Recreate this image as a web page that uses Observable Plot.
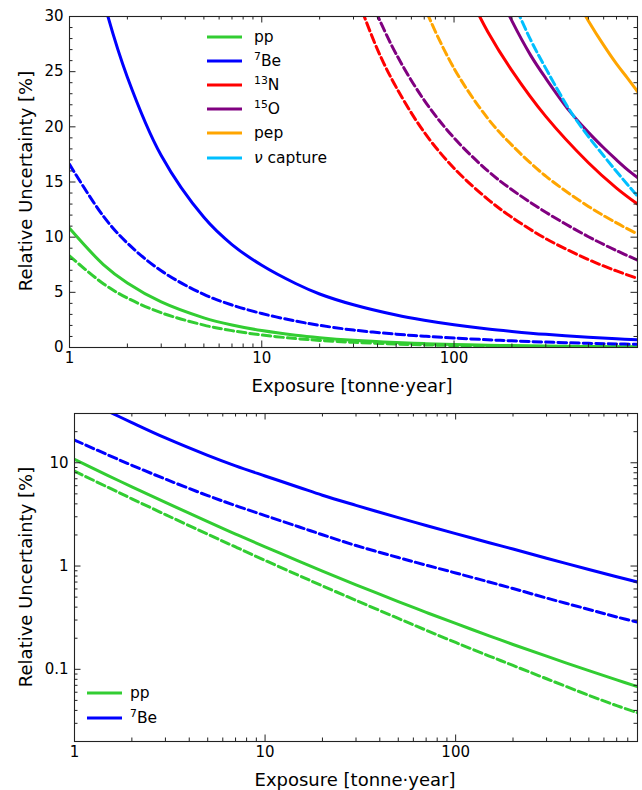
<!DOCTYPE html>
<html>
<head>
<meta charset="utf-8">
<script src="https://cdn.jsdelivr.net/npm/d3@7"></script>
<script src="https://cdn.jsdelivr.net/npm/@observablehq/plot@0.6"></script>
<style>
  html, body { margin: 0; padding: 0; background: #fff; }
  #wrap { position: relative; width: 642px; height: 790px; font-family: "DejaVu Sans", sans-serif; color: #000; }
  .panel { position: absolute; left: 0; }
  .xtitle { position: absolute; font-size: 18px; white-space: nowrap; transform: translate(-50%, -50%); }
  .ytitle { position: absolute; font-size: 18px; white-space: nowrap; transform: translate(-50%, -50%) rotate(-90deg); }
  .legend { position: absolute; font-size: 15.5px; }
  .legend .row { display: flex; align-items: center; white-space: nowrap; }
  .legend sup { font-size: 0.7em; vertical-align: 0.55em; line-height: 0; }
</style>
</head>
<body>
<div id="wrap">
  <div id="top" class="panel" style="top:0"></div>
  <div id="bottom" class="panel" style="top:395px"></div>
</div>
<script>
// ---------- data ----------
const exposure  = [1, 1.5, 2, 3, 5, 7, 10, 15, 20, 30, 50, 70, 100, 150, 200, 300, 500, 700, 900];
const ppSolid   = [10.8, 7.52, 5.85, 4.13, 2.69, 2.04, 1.535, 1.116, 0.894, 0.658, 0.453, 0.356, 0.278, 0.211, 0.174, 0.134, 0.097, 0.079, 0.068];
const ppDashed  = [8.3, 5.78, 4.48, 3.15, 2.03, 1.53, 1.134, 0.812, 0.643, 0.465, 0.311, 0.239, 0.182, 0.1345, 0.109, 0.081, 0.056, 0.0445, 0.038];
const be7Solid  = [44.8, 31.5, 24.5, 17.4, 11.8, 9.33, 7.45, 5.8, 4.85, 3.87, 2.94, 2.47, 2.06, 1.68, 1.46, 1.19, 0.926, 0.788, 0.70];
const be7Dashed = [16.6, 11.9, 9.46, 6.95, 4.81, 3.85, 3.08, 2.4, 2.01, 1.58, 1.21, 1.02, 0.857, 0.70, 0.606, 0.49, 0.38, 0.321, 0.287];

const n13DashedX = [30, 40, 50, 70, 100, 150, 200, 300, 500, 700, 900];
const n13Dashed  = [32.6, 27.0, 23.6, 19.5, 16.25, 13.43, 11.8, 9.87, 7.97, 6.94, 6.26];
const o15DashedX = [35, 40, 50, 70, 100, 150, 200, 300, 500, 700, 900];
const o15Dashed  = [32.5, 30.1, 26.6, 22.4, 19.0, 16.0, 14.3, 12.26, 10.04, 8.78, 7.92];
const pepDashedX = [65, 70, 100, 150, 200, 300, 500, 700, 900];
const pepDashed  = [32.4, 30.9, 25.3, 20.75, 18.34, 15.53, 12.79, 11.29, 10.29];
const n13SolidX  = [120, 150, 200, 300, 500, 700, 900];
const n13Solid   = [31.9, 28.6, 25.1, 20.95, 16.75, 14.45, 13.0];
const o15SolidX  = [180, 200, 250, 300, 400, 500, 600, 700, 800, 900];
const o15Solid   = [31.3, 29.6, 26.5, 24.4, 21.4, 19.5, 18.1, 17.0, 16.1, 15.4];
const nuDashedX  = [200, 250, 300, 400, 500, 600, 700, 800, 900];
const nuDashed   = [31.6, 27.9, 25.3, 21.5, 19.12, 17.38, 15.95, 14.75, 13.73];
const pepSolidX  = [450, 500, 600, 700, 800, 900];
const pepSolid   = [31.0, 29.6, 27.4, 25.7, 24.4, 23.2];

const xMajorTicks = [1, 10, 100];
const xMinorTicks = [2,3,4,5,6,7,8,9, 20,30,40,50,60,70,80,90, 200,300,400,500,600,700,800];
const yLinMajor = [0, 5, 10, 15, 20, 25, 30];
const yLinMinor = [1,2,3,4, 6,7,8,9, 11,12,13,14, 16,17,18,19, 21,22,23,24, 26,27,28,29];
const yLogMajor = [0.1, 1, 10];
const yLogMinor = [0.02,0.03,0.04,0.05,0.06,0.07,0.08,0.09, 0.2,0.3,0.4,0.5,0.6,0.7,0.8,0.9, 2,3,4,5,6,7,8,9, 20];

const colors = {pp: "#32cd32", be7: "#0000ff", n13: "#ff0000", o15: "#800080", pep: "#ffa500", nu: "#00bfff"};
const legendTop = [
  {key: "pp",  html: "pp"},
  {key: "be7", html: "<sup>7</sup>Be"},
  {key: "n13", html: "<sup>13</sup>N"},
  {key: "o15", html: "<sup>15</sup>O"},
  {key: "pep", html: "pep"},
  {key: "nu",  html: "<i>ν</i> capture"}
];
const legendBottom = [
  {key: "pp",  html: "pp"},
  {key: "be7", html: "<sup>7</sup>Be"}
];

// ---------- helpers ----------
const W = 642;
const rows = (xs, ys) => xs.map((x, i) => ({x, y: ys[i]}));
const series = (xs, ys, key, dashed) => ({data: rows(xs, ys), color: colors[key], dashed});

const topSeries = [
  series(exposure, ppSolid, "pp", false),
  series(exposure, ppDashed, "pp", true),
  series(exposure, be7Solid, "be7", false),
  series(exposure, be7Dashed, "be7", true),
  series(n13DashedX, n13Dashed, "n13", true),
  series(o15DashedX, o15Dashed, "o15", true),
  series(pepDashedX, pepDashed, "pep", true),
  series(n13SolidX, n13Solid, "n13", false),
  series(o15SolidX, o15Solid, "o15", false),
  series(nuDashedX, nuDashed, "nu", true),
  series(pepSolidX, pepSolid, "pep", false)
];
const bottomSeries = [
  series(exposure, ppSolid, "pp", false),
  series(exposure, ppDashed, "pp", true),
  series(exposure, be7Solid, "be7", false),
  series(exposure, be7Dashed, "be7", true)
];

function panel({height, marginTop, marginBottom, marginLeft, marginRight, y, yMajor, yMinor, lines}) {
  const innerH = height - marginTop - marginBottom;
  const innerW = W - marginLeft - marginRight;
  const MAJ = 6.5, MIN = 3.5, tc = "#222";
  return Plot.plot({
    width: W, height, marginTop, marginBottom, marginLeft, marginRight,
    style: {fontFamily: "'DejaVu Sans', sans-serif", fontSize: "15px", color: "#000", background: "#fff", overflow: "visible"},
    x: {type: "log", domain: [1, 900]},
    y,
    marks: [
      ...lines.map(s => Plot.line(s.data, {
        x: "x", y: "y", stroke: s.color, strokeWidth: 3,
        strokeDasharray: s.dashed ? "8.5,4" : null, curve: "catmull-rom", clip: true
      })),
      Plot.tickX(xMajorTicks, {x: d => d, insetTop: innerH - MAJ, stroke: tc}),
      Plot.tickX(xMajorTicks, {x: d => d, insetBottom: innerH - MAJ, stroke: tc}),
      Plot.tickX(xMinorTicks, {x: d => d, insetTop: innerH - MIN, stroke: tc}),
      Plot.tickX(xMinorTicks, {x: d => d, insetBottom: innerH - MIN, stroke: tc}),
      Plot.tickY(yMajor, {y: d => d, insetRight: innerW - MAJ, stroke: tc}),
      Plot.tickY(yMajor, {y: d => d, insetLeft: innerW - MAJ, stroke: tc}),
      Plot.tickY(yMinor, {y: d => d, insetRight: innerW - MIN, stroke: tc}),
      Plot.tickY(yMinor, {y: d => d, insetLeft: innerW - MIN, stroke: tc}),
      Plot.frame({stroke: tc, strokeWidth: 1.1}),
      Plot.axisX({ticks: xMajorTicks, tickSize: 0, tickPadding: 5, tickFormat: d => String(d), label: null}),
      Plot.axisY({ticks: yMajor, tickSize: 0, tickPadding: 6, tickFormat: d => String(d), label: null})
    ]
  });
}

function legend(container, items, {left, top, rowH, lineW, gap}) {
  const div = document.createElement("div");
  div.className = "legend";
  div.style.left = left + "px";
  div.style.top = top + "px";
  for (const it of items) {
    const row = document.createElement("div");
    row.className = "row";
    row.style.height = rowH + "px";
    row.innerHTML = `<svg width="${lineW}" height="6" style="margin-right:${gap}px"><line x1="0" x2="${lineW}" y1="3" y2="3" stroke="${colors[it.key]}" stroke-width="3"/></svg><span>${it.html}</span>`;
    div.appendChild(row);
  }
  container.appendChild(div);
}

function title(container, cls, text, cx, cy) {
  const d = document.createElement("div");
  d.className = cls;
  d.style.left = cx + "px";
  d.style.top = cy + "px";
  d.textContent = text;
  container.appendChild(d);
}

const wrap = document.getElementById("wrap");

document.getElementById("top").appendChild(panel({
  height: 395, marginTop: 16, marginBottom: 48, marginLeft: 69, marginRight: 5,
  y: {type: "linear", domain: [0, 30]},
  yMajor: yLinMajor, yMinor: yLinMinor, lines: topSeries
}));
document.getElementById("bottom").appendChild(panel({
  height: 395, marginTop: 18, marginBottom: 49, marginLeft: 74, marginRight: 5,
  y: {type: "log", domain: [0.02, 30]},
  yMajor: yLogMajor, yMinor: yLogMinor, lines: bottomSeries
}));

legend(wrap, legendTop, {left: 207, top: 25, rowH: 24.1, lineW: 35, gap: 12});
legend(wrap, legendBottom, {left: 87, top: 681, rowH: 24.4, lineW: 35, gap: 8});

title(wrap, "xtitle", "Exposure [tonne·year]", 352, 385);
title(wrap, "ytitle", "Relative Uncertainty [%]", 25, 181);
title(wrap, "xtitle", "Exposure [tonne·year]", 355, 779);
title(wrap, "ytitle", "Relative Uncertainty [%]", 25, 577);
</script>
</body>
</html>
